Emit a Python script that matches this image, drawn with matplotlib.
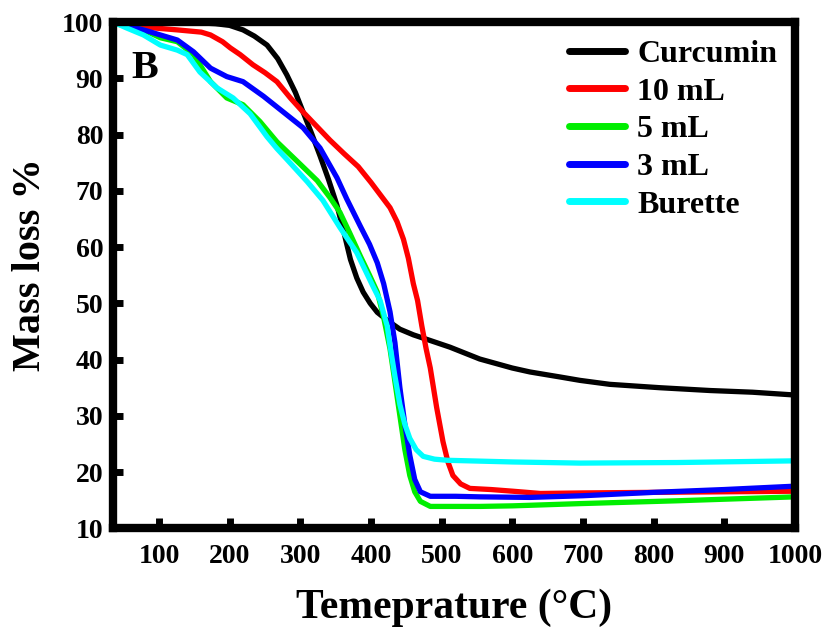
import numpy as np
from matplotlib import pyplot as plt

#======================================================================================================
# Data (temperature in C, mass %)
curcumin_T = [35, 100, 150, 180, 200, 219, 235, 253, 268, 281, 293, 304, 316, 328, 340, 352, 362, 371, 380,
              389, 399, 409, 425, 441, 460, 479, 512, 554, 600, 625, 668, 696, 738, 809, 880, 940, 1000]
curcumin_m = [100, 100, 99.9, 99.7, 99.4, 98.6, 97.5, 95.9, 93.5, 90.6, 87.5, 84, 80.2, 76.2, 72, 67.4, 62.5,
              57.8, 54.5, 52, 50, 48.4, 46.8, 45.4, 44.4, 43.6, 42.2, 40.1, 38.5, 37.8, 36.9, 36.3, 35.6, 35,
              34.5, 34.2, 33.7]

ml10_T = [35, 78, 126, 160, 173, 190, 201, 215, 233, 250, 267, 286, 304, 323, 342, 362, 382, 400, 415, 427,
          437, 446, 453, 460, 466, 472, 478, 484, 493, 502, 509, 516, 527, 540, 570, 601, 640, 700, 800, 900, 1000]
ml10_m = [100, 99.1, 98.6, 98.2, 97.7, 96.5, 95.4, 94.2, 92.4, 91, 89.4, 86.5, 84, 81.5, 79, 76.6, 74.3, 71.5,
          69, 67, 64.5, 61.4, 58, 53.5, 50.5, 46, 42, 38.5, 31.5, 25.4, 21.8, 19.4, 17.9, 17.1, 16.9, 16.6,
          16.2, 16.3, 16.4, 16.5, 16.6]

ml5_T = [35, 78, 102, 126, 149, 173, 196, 219, 243, 267, 296, 324, 342, 356, 370, 385, 398, 409, 418, 427,
         434, 441, 448, 455, 462, 470, 484, 520, 554, 600, 625, 696, 833, 1000]
ml5_m = [99.8, 98.6, 97.2, 96.5, 94.2, 89.4, 86.5, 85.3, 82.3, 78.7, 75.2, 71.8, 68.8, 66.2, 62.5, 58.4, 55,
         52, 47.5, 41.9, 36, 30, 24, 19.4, 16.5, 14.8, 13.9, 13.9, 13.9, 14, 14.1, 14.4, 14.9, 15.6]

ml3_T = [35, 78, 102, 126, 149, 173, 196, 219, 248, 276, 304, 328, 352, 366, 385, 398, 409, 418, 427, 434,
         441, 448, 455, 462, 470, 484, 520, 554, 625, 700, 800, 900, 1000]
ml3_m = [100, 98.6, 97.7, 96.8, 94.7, 91.8, 90.3, 89.4, 86.8, 84, 81.2, 77.6, 72.3, 68.5, 63.7, 60.5, 57.2,
         53.5, 48.5, 43, 35, 28.5, 23, 18.7, 16.5, 15.7, 15.7, 15.6, 15.5, 15.8, 16.4, 16.9, 17.5]

burette_T = [35, 55, 78, 102, 126, 140, 158, 182, 205, 229, 253, 267, 281, 310, 332, 356, 380, 403, 413, 423,
             427, 434, 441, 448, 455, 464, 474, 490, 508, 601, 696, 833, 1000]
burette_m = [100, 98.9, 97.7, 95.9, 95, 94.2, 91.1, 88.3, 86.5, 83.7, 79.6, 77.5, 75.6, 71.6, 68.3, 63.5,
             59, 53, 50.5, 46, 42.5, 37, 32, 28.5, 26, 24, 22.8, 22.3, 22.1, 21.8, 21.6, 21.7, 22]

labels = ["Curcumin", "10 mL", "5 mL", "3 mL", "Burette"]
colors = ["black", "red", "#00ee00", "blue", "cyan"]
x_ticks = list(range(100, 1001, 100))
y_ticks = list(range(10, 101, 10))

#======================================================================================================

def main():
    plt.rcParams['font.family'] = ['Liberation Serif', 'DejaVu Serif']
    plt.rcParams['font.weight'] = 'bold'

    fig = plt.figure(figsize=[8.28, 6.29], dpi=100)
    ax = fig.add_axes([0.1365, 0.160, 0.8235, 0.805])

    series = [(curcumin_T, curcumin_m), (ml10_T, ml10_m), (ml5_T, ml5_m),
              (ml3_T, ml3_m), (burette_T, burette_m)]
    for (t, m), lab, c in zip(series, labels, colors):
        ax.plot(t, m, color=c, lw=3.8, label=lab, solid_capstyle='round', solid_joinstyle='round')

    ax.set_xlim(35, 1000)
    ax.set_ylim(10, 100)
    ax.set_xticks(x_ticks)
    ax.set_yticks(y_ticks)
    ax.tick_params(direction='in', length=7, width=5, labelsize=20)
    ax.tick_params(axis='x', pad=11)
    ax.tick_params(axis='y', pad=7)
    for lbl in ax.get_xticklabels() + ax.get_yticklabels():
        lbl.set_fontweight('bold')
    for s in ax.spines.values():
        s.set_linewidth(6)

    ax.set_xlabel("Temeprature (°C)", fontsize=30, fontweight='bold', labelpad=14)
    ax.set_ylabel("Mass loss %", fontsize=29, fontweight='bold')
    ax.yaxis.set_label_coords(-0.094, 0.52)

    ax.text(0.027, 0.89, "B", transform=ax.transAxes, fontsize=29, fontweight='bold')

    leg = ax.legend(loc='upper right', frameon=False, handlelength=1.75,
                    handletextpad=0.4, labelspacing=0.26, borderaxespad=0.15,
                    prop={'weight': 'bold', 'size': 23})
    for line in leg.get_lines():
        line.set_linewidth(5)

    fig.savefig('out.png', dpi=100)
    return

if __name__ == "__main__":
    main()
